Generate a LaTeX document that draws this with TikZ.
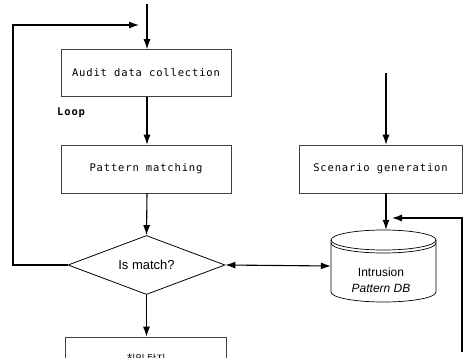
\documentclass[tikz,border=0pt]{standalone}
\usepackage{fontspec}
\setmainfont{Liberation Sans}
\newfontfamily\monof[LetterSpace=8]{DejaVu Sans Mono}
\newfontfamily\krf{Noto Sans CJK KR}
\usetikzlibrary{arrows.meta,shapes.geometric}
\begin{document}
\begin{tikzpicture}[x=1pt,y=-1pt,
  procbox/.style={draw=black!75,line width=0.6pt,rectangle,inner sep=0pt,font=\monof\fontsize{10.5}{12}\selectfont},
  arr/.style={line width=1.1pt,-{Latex[length=10pt,width=7pt]}},
  arrtwo/.style={line width=1.1pt,{Latex[length=10pt,width=7pt]}-{Latex[length=10pt,width=7pt]}},
  plain/.style={line width=1.1pt}]
\useasboundingbox (0,0) rectangle (463,358);
% boxes
\node[procbox,minimum width=170pt,minimum height=47pt] (audit) at (146,73) {Audit data collection};
\node[procbox,minimum width=170pt,minimum height=48pt] (pm) at (146,169) {Pattern matching};
\node[procbox,minimum width=163pt,minimum height=48pt] (scen) at (380.5,169) {Scenario generation};
\node[procbox,minimum width=161pt,minimum height=44pt,font=\krf\fontsize{10}{12}\selectfont] (det) at (146,359) {침입 탐지};
\node[draw=black,line width=0.8pt,shape=diamond,aspect=2.66,minimum width=157pt,minimum height=59pt,inner sep=0pt,font=\fontsize{13}{15}\selectfont] (dia) at (146.5,265) {Is match?};
\node[font=\monof\bfseries\fontsize{10.5}{12}\selectfont,anchor=west,inner sep=0pt] (loop) at (57,113) {Loop};
% database cylinder
\node[minimum width=105pt,minimum height=72pt,inner sep=0pt] (db) at (383.5,266) {};
\draw[line width=0.7pt] (383.5,240) ellipse [x radius=52.5pt,y radius=10pt];
\draw[line width=0.7pt] (331,243) arc[start angle=180,end angle=360,x radius=52.5pt,y radius=10pt];
\draw[line width=0.7pt] (331,240) -- (331,292) arc[start angle=180,end angle=360,x radius=52.5pt,y radius=10pt] -- (436,240);
\node[align=center,font=\fontsize{12}{16}\selectfont] (dblabel) at (381,280) {Intrusion\\\textit{Pattern DB}};
% coordinates
\coordinate (in) at (147,4);
\coordinate (scin) at (386,73);
\coordinate (lc) at (13,265);
\coordinate (looptip) at (139,25);
\coordinate (fbend) at (462,352);
\coordinate (fbcorner) at (462,218);
\coordinate (fbtip) at (392,218);
% connectors
\draw[arr] (in) -- (in |- audit.north);
\draw[arr] (audit.south -| in) -- (pm.north -| in);
\draw[arr] (pm.south -| in) -- (dia.north);
\draw[arr] (dia.south) -- (det.north -| dia.south);
\draw[arr] (dia.west) -- (lc) |- (looptip);
\draw[arrtwo] (dia.east) -- (db.west);
\draw[arr] (scin) -- (scin |- scen.north);
\draw[arr] (scen.south -| scin) -- (db.north -| scin);
\draw[arr] (fbend) -- (fbcorner) -- (fbtip);
\end{tikzpicture}
\end{document}
